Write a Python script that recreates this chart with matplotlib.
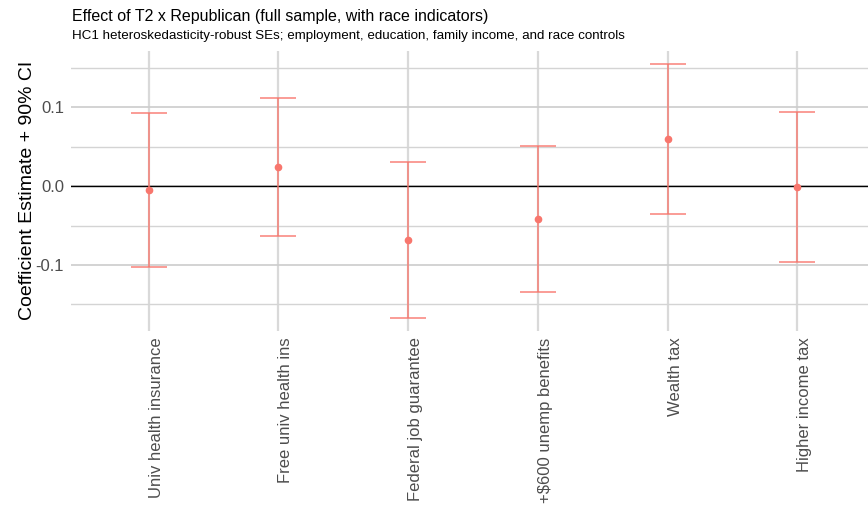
import matplotlib.pyplot as plt
import numpy as np

# outcomes and estimates
outcomes = ['Univ health insurance', 'Free univ health ins', 'Federal job guarantee',
            '+$600 unemp benefits', 'Wealth tax', 'Higher income tax']
estimate = [-0.005, 0.024, -0.068, -0.042, 0.060, -0.001]
ci_low = [-0.103, -0.063, -0.167, -0.134, -0.035, -0.096]
ci_high = [0.093, 0.111, 0.030, 0.051, 0.155, 0.094]

plt.rcParams['font.family'] = ['Liberation Sans', 'DejaVu Sans']

fig = plt.figure(figsize=(8.68, 5.08), dpi=100)
ax = fig.add_axes([71 / 868, 1 - 330.6 / 508, 804 / 868, (330.6 - 51) / 508])

x = np.arange(1, len(outcomes) + 1)
est = np.array(estimate)
lo = np.array(ci_low)
hi = np.array(ci_high)

col = '#F8766D'
ax.errorbar(x, est, yerr=[est - lo, hi - est], fmt='none', ecolor=col, alpha=0.78,
            elinewidth=1.3, capsize=13, capthick=1.3, zorder=3)
ax.plot(x, est, 'o', color=col, markersize=4.5, zorder=4)
ax.axhline(0, color='black', linewidth=1.0, zorder=2)

ax.set_xlim(0.4, 6.6)
rng = max(ci_high) - min(ci_low)
ax.set_ylim(min(ci_low) - 0.05 * rng, max(ci_high) + 0.05 * rng)
ax.set_yticks([-0.1, 0.0, 0.1])
ax.set_yticklabels(['-0.1', '0.0', '0.1'])
ax.set_yticks([-0.15, -0.05, 0.05, 0.15], minor=True)
ax.set_xticks(x)
# left edge of the rotated label at the tick, like ggplot
ax.set_xticklabels(outcomes, rotation=90, va='top', ha='left')

ax.grid(True, which='major', axis='y', color='#cccccc', linewidth=1.2, zorder=0)
ax.grid(True, which='minor', axis='y', color='#d4d4d4', linewidth=1.0, zorder=0)
ax.grid(True, which='major', axis='x', color='#d9d9d9', linewidth=1.6, zorder=0)
ax.set_axisbelow(True)
for s in ax.spines.values():
    s.set_visible(False)
ax.tick_params(axis='both', which='both', length=0, labelsize=12, labelcolor='#4d4d4d')
ax.tick_params(axis='x', pad=5)
ax.tick_params(axis='y', pad=5)

ax.set_ylabel('Coefficient Estimate + 90% CI', fontsize=14, color='black', labelpad=0)

fig.text(72 / 868, 1 - 17 / 508, 'Effect of T2 x Republican (full sample, with race indicators)',
         fontsize=11.5, va='center', ha='left')
fig.text(72 / 868, 1 - 36 / 508,
         'HC1 heteroskedasticity-robust SEs; employment, education, family income, and race controls',
         fontsize=9.6, va='center', ha='left')

fig.savefig('out.png', dpi=100)
